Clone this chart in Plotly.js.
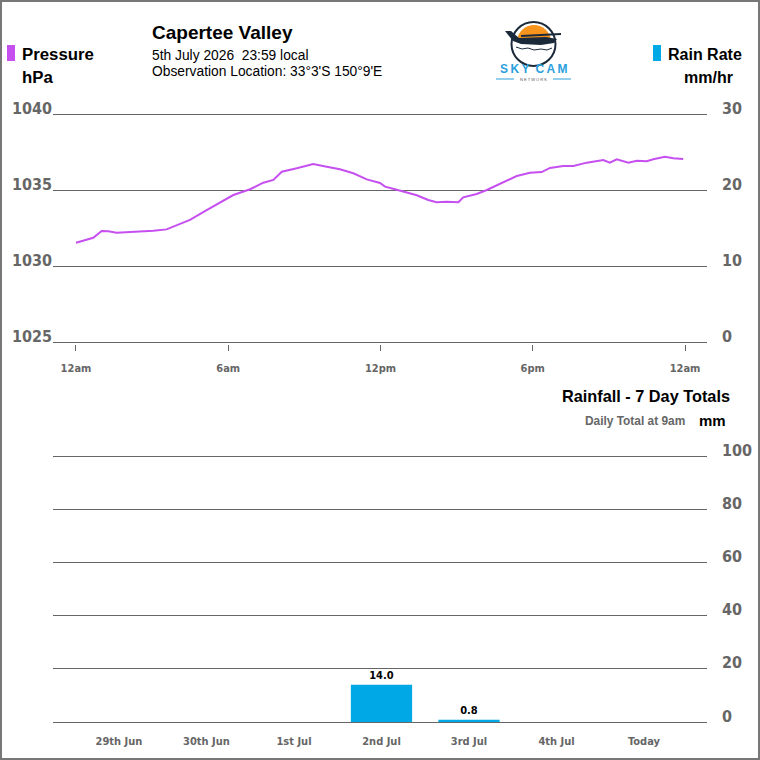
<!DOCTYPE html>
<html><head><meta charset="utf-8">
<script src="https://cdn.plot.ly/plotly-3.0.1.min.js"></script>
<style>html,body{margin:0;padding:0;background:#fff;} #chart{width:760px;height:760px;}</style>
</head><body><div id="chart"></div>
<script>
// ---- Data ----
const pressureHours = [0.0,0.68,1.01,1.27,1.60,2.26,3.05,3.57,3.97,4.49,5.15,5.80,6.20,6.86,7.38,7.78,8.11,8.70,9.35,9.88,10.40,10.93,11.46,11.98,12.18,12.57,13.03,13.43,13.88,14.21,14.61,15.07,15.26,15.79,16.19,16.84,17.37,17.89,18.35,18.68,19.20,19.60,20.13,20.78,21.04,21.31,21.77,22.10,22.49,22.75,23.21,23.54,23.93];
const pressureValues = [1031.53,1031.86,1032.30,1032.28,1032.19,1032.24,1032.32,1032.41,1032.68,1033.03,1033.68,1034.28,1034.67,1035.05,1035.48,1035.66,1036.20,1036.43,1036.71,1036.53,1036.36,1036.10,1035.70,1035.46,1035.22,1035.05,1034.82,1034.65,1034.34,1034.19,1034.23,1034.19,1034.52,1034.74,1035.00,1035.53,1035.92,1036.14,1036.18,1036.45,1036.58,1036.58,1036.80,1036.97,1036.80,1037.02,1036.80,1036.93,1036.89,1037.02,1037.19,1037.09,1037.04];
const rainRateHours = [0,6,12,18,24];
const rainRateValues = [0,0,0,0,0];
const hourTickVals = [0,6,12,18,24];
const hourTickText = ['12am','6am','12pm','6pm','12am'];
const pressureTicks = [1025,1030,1035,1040];
const rainRateTicks = [0,10,20,30];
const rainDays = ['29th Jun','30th Jun','1st Jul','2nd Jul','3rd Jul','4th Jul','Today'];
const rainTotals = [0,0,0,14.0,0.8,0,0];
const rainTotalTicks = [0,20,40,60,80,100];

// ---- Helpers ----
const X = px => px/760;
const Y = py => 1 - py/760;
const pathFrom = (pts, close) => pts.map((p,i)=>(i?'L':'M')+X(p[0])+','+Y(p[1])).join(' ') + (close?' Z':'');
const NARROW = '"DejaVu Sans Condensed", "Liberation Sans Narrow", "Liberation Sans", sans-serif';
const SANS = '"Liberation Sans", Arial, sans-serif';
const GREY = '#666666';
const PURPLE = '#c64ff0';
const BLUE = '#00a9e6';

// sun half-disc
const sunPts = [];
for (let a=0; a<=180; a+=10) { const r=a*Math.PI/180; sunPts.push([534+17*Math.cos(r), 42-17*Math.sin(r)]); }

const traces = [
  {type:'scatter', mode:'lines', x:pressureHours, y:pressureValues, xaxis:'x', yaxis:'y',
   line:{color:PURPLE, width:2}, hoverinfo:'skip'},
  {type:'bar', x:rainRateHours, y:rainRateValues, xaxis:'x', yaxis:'y2', marker:{color:BLUE}, hoverinfo:'skip'},
  {type:'bar', x:rainDays, y:rainTotals, xaxis:'x2', yaxis:'y3', marker:{color:BLUE}, width:0.7,
   text: rainTotals.map(v => v>0 ? v.toFixed(1) : ''), textposition:'outside', cliponaxis:false,
   textfont:{family:NARROW, size:11, color:'#000', weight:700}, hoverinfo:'skip'}
];

const tickFontBig = {family:NARROW, size:16, color:GREY, weight:700};
const tickFontSmall = {family:NARROW, size:11, color:GREY, weight:700};

// pressure: 15.2 px per hPa; pad 2px each side so edge gridlines are drawn
const layout = {
  width:760, height:760, margin:{l:0,r:0,t:0,b:0},
  paper_bgcolor:'#fff', plot_bgcolor:'rgba(0,0,0,0)', showlegend:false,
  xaxis:{domain:[X(53),X(707)], anchor:'y', range:[-0.906,24.867], tickvals:hourTickVals, ticktext:hourTickText,
    ticks:'outside', ticklen:6, tickcolor:GREY, tickwidth:1, showgrid:false, zeroline:false, showline:false,
    tickfont:tickFontSmall, ticklabelstandoff:8, fixedrange:true},
  yaxis:{domain:[Y(344),Y(112)], anchor:'x', range:[1025-2/15.2,1040+2/15.2], tickvals:pressureTicks,
    showgrid:true, gridcolor:GREY, gridwidth:1, zeroline:false, showline:false, ticks:'',
    tickfont:tickFontBig, ticklabelshift:-6, ticklabelstandoff:0, fixedrange:true},
  yaxis2:{overlaying:'y', side:'right', anchor:'x', range:[-2/7.6,30+2/7.6], tickvals:rainRateTicks,
    showgrid:false, zeroline:false, showline:false, ticks:'', tickfont:tickFontBig,
    ticklabelshift:-6, ticklabelstandoff:14, fixedrange:true},
  xaxis2:{domain:[X(53),X(707)], anchor:'y3', type:'category', range:[-0.754,6.72],
    showgrid:false, zeroline:false, showline:false, ticks:'', tickfont:tickFontSmall, ticklabelstandoff:9, fixedrange:true},
  yaxis3:{domain:[Y(724),Y(454)], anchor:'x2', side:'right', range:[-2/2.66,100+2/2.66], tickvals:rainTotalTicks,
    showgrid:true, gridcolor:GREY, gridwidth:1, zeroline:false, showline:false, ticks:'',
    tickfont:tickFontBig, ticklabelshift:-6, ticklabelstandoff:14, fixedrange:true},
  shapes:[
    {type:'rect', xref:'paper', yref:'paper', x0:X(1), x1:X(759), y0:Y(759), y1:Y(1), line:{color:'#777', width:2}, fillcolor:'rgba(0,0,0,0)'},
    {type:'rect', xref:'paper', yref:'paper', x0:X(7), x1:X(15), y0:Y(61), y1:Y(45), line:{width:0}, fillcolor:PURPLE},
    {type:'rect', xref:'paper', yref:'paper', x0:X(653), x1:X(661), y0:Y(61), y1:Y(45), line:{width:0}, fillcolor:BLUE},
    // logo
    {type:'path', xref:'paper', yref:'paper', path:pathFrom(sunPts,true), fillcolor:'#f7941d', line:{width:0}},
    {type:'circle', xref:'paper', yref:'paper', x0:X(511.5), x1:X(555.5), y0:Y(66), y1:Y(22), line:{color:'#1b2a3a', width:2}},
    {type:'path', xref:'paper', yref:'paper', path:pathFrom([[505,31],[511,31],[519,38],[546,37],[557,39],[554,43],[541,45],[521,44],[513,41]],true), fillcolor:'#1b2a3a', line:{width:0}},
    {type:'line', xref:'paper', yref:'paper', x0:X(521), x1:X(561), y0:Y(36), y1:Y(34), line:{color:'#1b2a3a', width:2}},
    {type:'path', xref:'paper', yref:'paper', path:pathFrom([[516,47],[522,49],[528,48],[534,50],[541,49],[547,50],[552,48]],false), fillcolor:'rgba(0,0,0,0)', line:{color:'#1b2a3a', width:1}},
    {type:'line', xref:'paper', yref:'paper', x0:X(496), x1:X(514), y0:Y(79), y1:Y(79), line:{color:'#2b9fdc', width:1}},
    {type:'line', xref:'paper', yref:'paper', x0:X(553), x1:X(571), y0:Y(79), y1:Y(79), line:{color:'#2b9fdc', width:1}}
  ],
  annotations:[
    {text:'Capertee Valley', x:X(151), y:Y(32), xanchor:'left', yanchor:'middle', font:{family:SANS, size:19, color:'#000', weight:700}},
    {text:'5th July 2026  23:59 local', x:X(151), y:Y(55), xanchor:'left', yanchor:'middle', font:{family:SANS, size:13.8, color:'#000'}},
    {text:"Observation Location: 33°3'S 150°9'E", x:X(151), y:Y(71), xanchor:'left', yanchor:'middle', font:{family:SANS, size:13.8, color:'#000'}},
    {text:'Pressure', x:X(21), y:Y(54), xanchor:'left', yanchor:'middle', font:{family:SANS, size:16.8, color:'#000', weight:700}},
    {text:'hPa', x:X(21), y:Y(77), xanchor:'left', yanchor:'middle', font:{family:SANS, size:16.8, color:'#000', weight:700}},
    {text:'Rain Rate', x:X(667), y:Y(54), xanchor:'left', yanchor:'middle', font:{family:SANS, size:16, color:'#000', weight:700}},
    {text:'mm/hr', x:X(683), y:Y(77), xanchor:'left', yanchor:'middle', font:{family:SANS, size:16, color:'#000', weight:700}},
    {text:'Rainfall - 7 Day Totals', x:X(731), y:Y(396), xanchor:'right', yanchor:'middle', font:{family:SANS, size:16.3, color:'#000', weight:700}},
    {text:'Daily Total at 9am', x:X(686), y:Y(421), xanchor:'right', yanchor:'middle', font:{family:SANS, size:11.9, color:GREY, weight:700}},
    {text:'mm', x:X(698), y:Y(420), xanchor:'left', yanchor:'middle', font:{family:SANS, size:15, color:'#000', weight:700}},
    {text:'S\u2009K\u2009Y\u2002C\u2009A\u2009M', x:X(533.5), y:Y(69), xanchor:'center', yanchor:'middle', font:{family:SANS, size:12, color:'#2b9fdc', weight:700}},
    {text:'N E T W O R K', x:X(533.5), y:Y(79.5), xanchor:'center', yanchor:'middle', font:{family:SANS, size:4, color:'#555'}}
  ].map(a => Object.assign({xref:'paper', yref:'paper', showarrow:false, borderpad:0}, a))
};

Plotly.newPlot('chart', traces, layout, {staticPlot:true, displayModeBar:false});
</script>
</body></html>
